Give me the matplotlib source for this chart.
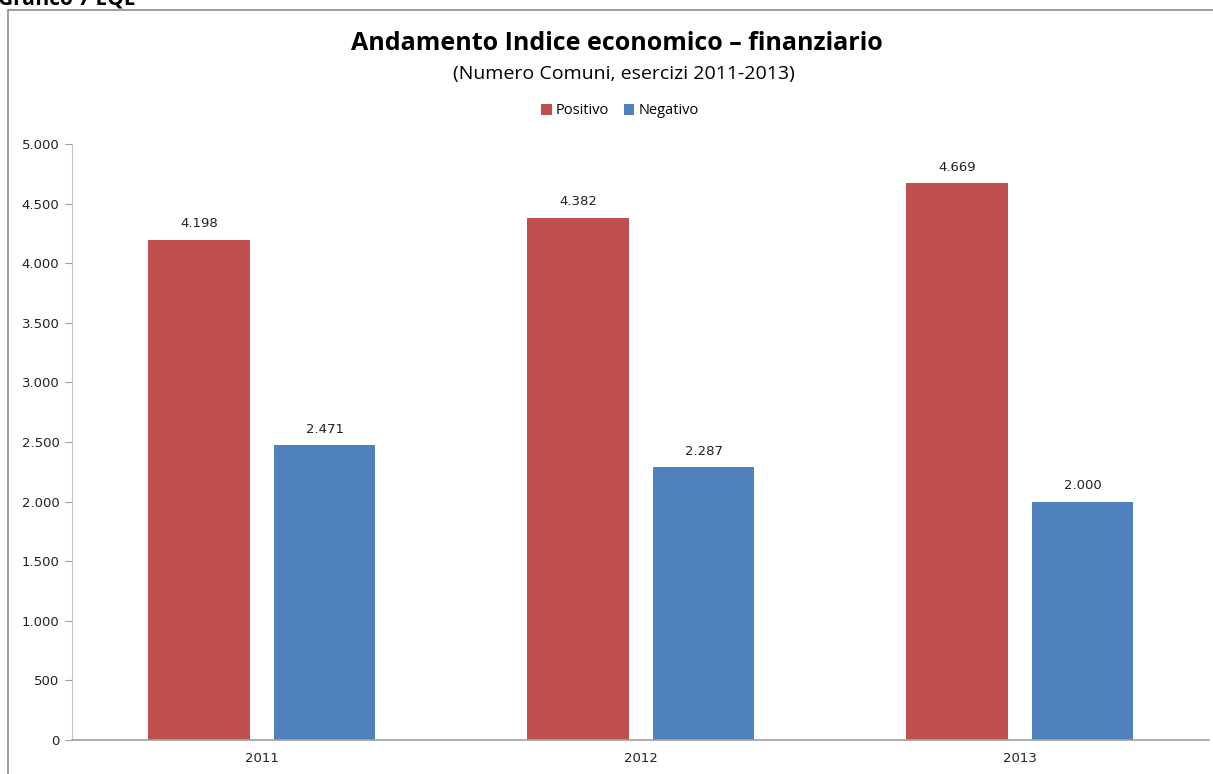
import matplotlib
matplotlib.use('Agg')
import matplotlib.pyplot as plt
import numpy as np
from matplotlib.patches import Rectangle

years = ['2011', '2012', '2013']
positivo = [4198, 4382, 4669]
negativo = [2471, 2287, 2000]
yticks = [0, 500, 1000, 1500, 2000, 2500, 3000, 3500, 4000, 4500, 5000]

red = '#C0504D'
blue = '#4F81BD'
axis_grey = '#A0A0A0'


def fmt(v):
    return f'{v:,}'.replace(',', '.')


fig = plt.figure(figsize=(12.13, 7.74), dpi=100)
ax = fig.add_axes([72 / 1213, 1 - 740 / 774, 1137 / 1213, 596 / 774])

# cornice del grafico (tagliata a destra e in basso)
fig.patches.append(Rectangle((8 / 1213, -0.1), 1.2, 1 - 10 / 774 + 0.1,
                             transform=fig.transFigure, fill=False,
                             edgecolor='#8C8C8C', linewidth=1.2))
fig.text(-2 / 1213, 1 - 4 / 774, 'Grafico 7 EQE', fontsize=15, fontweight='bold',
         family='Open Sans', va='baseline', ha='left')

x = np.arange(len(years))
w = 0.267
bp = ax.bar(x - 0.165, positivo, w, color=red, label='Positivo')
bn = ax.bar(x + 0.167, negativo, w, color=blue, label='Negativo')

for bars, vals in ((bp, positivo), (bn, negativo)):
    for b, v in zip(bars, vals):
        ax.annotate(fmt(v), (b.get_x() + b.get_width() / 2, v), xytext=(0, 7),
                    textcoords='offset points', ha='center', va='bottom',
                    fontsize=9.5, color='#222222')

ax.set_xlim(-0.5, 2.5)
ax.set_ylim(0, 5000)
ax.set_yticks(yticks)
ax.set_yticklabels([fmt(t) for t in yticks])
ax.set_xticks(x)
ax.set_xticklabels(years)
ax.tick_params(axis='y', length=5, color=axis_grey, labelsize=9.5, pad=4)
ax.tick_params(axis='x', length=0, labelsize=9.5, pad=9)
for lab in ax.get_xticklabels() + ax.get_yticklabels():
    lab.set_color('#222222')
for s in ('top', 'right'):
    ax.spines[s].set_visible(False)
ax.spines['left'].set_color('#C8C8C8')
ax.spines['bottom'].set_color(axis_grey)
ax.spines['bottom'].set_linewidth(1.2)

fig.text(617 / 1213, 1 - 43 / 774, 'Andamento Indice economico \u2013 finanziario',
         fontsize=18, fontweight='bold', family='Open Sans', ha='center', va='center')
fig.text(624 / 1213, 1 - 74 / 774, '(Numero Comuni, esercizi 2011-2013)',
         fontsize=14, family='Open Sans', ha='center', va='center')

fig.legend(handles=[bp, bn], labels=['Positivo', 'Negativo'], loc='center',
           bbox_to_anchor=(620 / 1213, 1 - 111 / 774), ncol=2, frameon=False,
           handlelength=0.7, handleheight=0.7, handletextpad=0.3,
           columnspacing=1.0, prop={'family': 'Open Sans', 'size': 10.5})

fig.savefig('out.png', dpi=100)
